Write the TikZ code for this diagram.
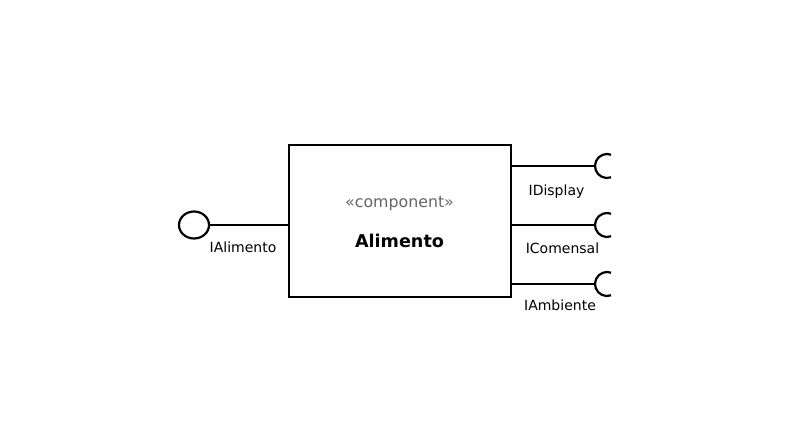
\documentclass[tikz,border=0pt]{standalone}
\usepackage{fontspec}
\setmainfont{DejaVu Sans}
\usetikzlibrary{shapes.geometric}
\begin{document}
\begin{tikzpicture}[x=1pt,y=-1pt,
  wire/.style={line width=2.2pt,black},
  comp/.style={draw,line width=2.2pt,minimum width=222pt,minimum height=152pt,inner sep=0pt},
  lbl/.style={font=\fontsize{14}{16}\selectfont,inner sep=0pt,anchor=base},
  lollipop/.style={draw,line width=2.2pt,ellipse,minimum width=30pt,minimum height=27pt,inner sep=0pt}]
\useasboundingbox (0,0) rectangle (794,447);
\node[comp] (box) at (400,221) {};
\node[font=\fontsize{15.8}{18}\selectfont,text=black!60,inner sep=0pt,anchor=base] (st) at (399.5,207) {«component»};
\node[font=\fontsize{17.6}{20}\selectfont\bfseries,inner sep=0pt,anchor=base] (nm) at (399.5,247) {Alimento};
% provided interface
\node[lollipop] (prov) at (194,225) {};
\draw[wire] (prov.east) -- (box.west |- prov.east);
\node[lbl] (lprov) at (243,252) {IAlimento};
% required interfaces
\foreach \n/\y/\t/\lx/\ly in {d/166/IDisplay/556.5/195, c/225/IComensal/562.5/253, a/284/IAmbiente/560/310}{
  \coordinate (s\n) at (595,\y);
  \coordinate (c\n) at (607,\y);
  \draw[wire] (box.east |- s\n) -- (s\n);
  \draw[wire] (c\n) ++(70:12) arc[start angle=70,end angle=290,radius=12];
  \node[lbl] (l\n) at (\lx,\ly) {\t};
}
\end{tikzpicture}
\end{document}
